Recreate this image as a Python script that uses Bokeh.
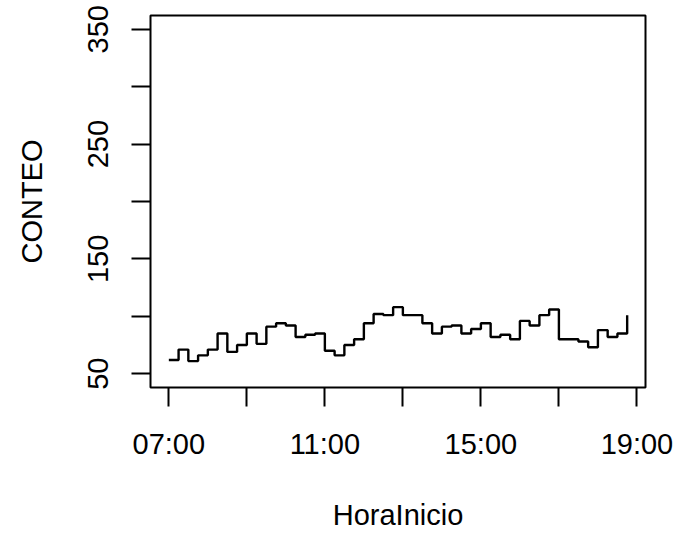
from bokeh.plotting import figure
from bokeh.models import Range1d, FixedTicker
from bokeh.embed import file_html
from bokeh.resources import INLINE

# --- data ---
hora = ["07:00", "07:15", "07:30", "07:45", "08:00", "08:15", "08:30", "08:45",
        "09:00", "09:15", "09:30", "09:45", "10:00", "10:15", "10:30", "10:45",
        "11:00", "11:15", "11:30", "11:45", "12:00", "12:15", "12:30", "12:45",
        "13:00", "13:15", "13:30", "13:45", "14:00", "14:15", "14:30", "14:45",
        "15:00", "15:15", "15:30", "15:45", "16:00", "16:15", "16:30", "16:45",
        "17:00", "17:15", "17:30", "17:45", "18:00", "18:15", "18:30", "18:45"]
conteo = [62, 71, 61, 66, 71, 85, 69, 75, 85, 76, 91, 94, 92, 82, 84, 85,
          70, 66, 75, 80, 94, 102, 101, 108, 101, 101, 94, 85, 91, 92, 85, 89,
          94, 82, 84, 80, 96, 92, 101, 106, 80, 80, 78, 73, 88, 82, 85, 101]

x_ticks = [7, 9, 11, 13, 15, 17, 19]
x_tick_labels = ["07:00", "", "11:00", "", "15:00", "", "19:00"]
y_ticks = [50, 100, 150, 200, 250, 300, 350]
y_tick_labels = ["50", "", "150", "", "250", "", "350"]

def to_hours(s):
    h, m = s.split(":")
    return int(h) + int(m) / 60.0

xs = [to_hours(h) for h in hora]

FONT = "Liberation Sans"
FS = "29px"

W, H = 673, 533
BL, BR, BT, BB = 150, 28, 15, 146

p = figure(width=W, height=H, output_backend="svg", toolbar_location=None,
           x_range=Range1d(6.53, 19.22), y_range=Range1d(38, 362),
           min_border_left=BL, min_border_right=BR, min_border_top=BT,
           min_border_bottom=BB)

p.step(xs, conteo, mode="after", line_color="black", line_width=2.4)

p.grid.visible = False
p.outline_line_color = "black"
p.outline_line_width = 2
p.background_fill_color = "white"
p.border_fill_color = "white"

p.xaxis.ticker = FixedTicker(ticks=x_ticks)
p.xaxis.major_label_overrides = {t: l for t, l in zip(x_ticks, x_tick_labels)}
p.yaxis.ticker = FixedTicker(ticks=y_ticks)
p.yaxis.major_label_overrides = {t: l for t, l in zip(y_ticks, y_tick_labels)}
p.yaxis.major_label_orientation = "vertical"

for ax in (p.xaxis, p.yaxis):
    ax.axis_line_color = None
    ax.major_tick_line_color = "black"
    ax.major_tick_line_width = 2
    ax.major_tick_out = 19
    ax.major_tick_in = 0
    ax.minor_tick_line_color = None
    ax.major_label_text_font = FONT
    ax.major_label_text_font_size = FS
    ax.major_label_text_color = "black"
    ax.axis_label_text_font = FONT
    ax.axis_label_text_font_size = FS
    ax.axis_label_text_font_style = "normal"
    ax.axis_label_text_color = "black"

p.xaxis.axis_label = "HoraInicio"
p.yaxis.axis_label = "CONTEO"
p.xaxis.major_label_standoff = 21
p.yaxis.major_label_standoff = 23
p.xaxis.axis_label_standoff = 36
p.yaxis.axis_label_standoff = 38

open("out.html", "w").write(file_html(p, INLINE))
